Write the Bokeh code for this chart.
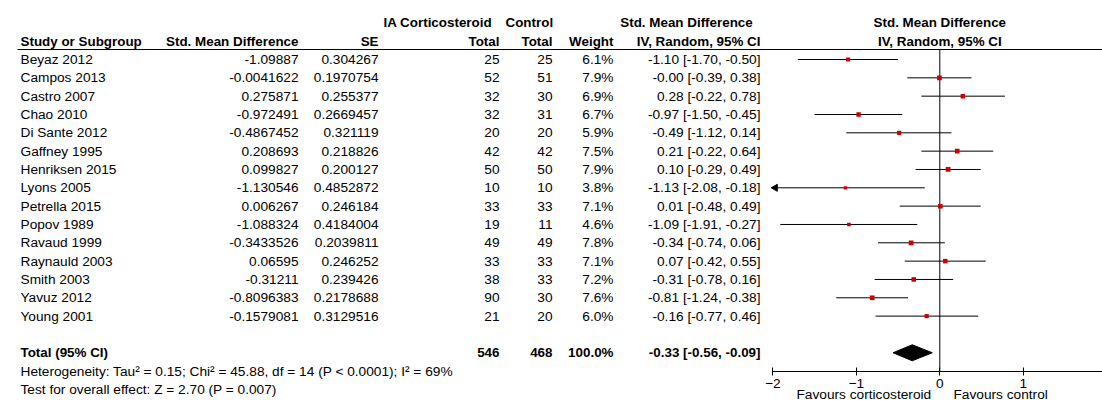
import numpy as np
from bokeh.plotting import figure
from bokeh.models import Range1d, LinearAxis, FixedTicker, ColumnDataSource
from bokeh.embed import file_html
from bokeh.resources import INLINE
from bokeh.core.properties import value

# ---------------- data ----------------
studies = ["Beyaz 2012", "Campos 2013", "Castro 2007", "Chao 2010", "Di Sante 2012",
           "Gaffney 1995", "Henriksen 2015", "Lyons 2005", "Petrella 2015", "Popov 1989",
           "Ravaud 1999", "Raynauld 2003", "Smith 2003", "Yavuz 2012", "Young 2001"]
smd = [-1.09887, -0.0041622, 0.275871, -0.972491, -0.4867452,
       0.208693, 0.099827, -1.130546, 0.006267, -1.088324,
       -0.3433526, 0.06595, -0.31211, -0.8096383, -0.1579081]
se = [0.304267, 0.1970754, 0.255377, 0.2669457, 0.321119,
      0.218826, 0.200127, 0.4852872, 0.246184, 0.4184004,
      0.2039811, 0.246252, 0.239426, 0.2178688, 0.3129516]
n_ia = [25, 52, 32, 32, 20, 42, 50, 10, 33, 19, 49, 33, 38, 90, 21]
n_ctrl = [25, 51, 30, 31, 20, 42, 50, 10, 33, 11, 49, 33, 33, 30, 20]
weight = [6.1, 7.9, 6.9, 6.7, 5.9, 7.5, 7.9, 3.8, 7.1, 4.6, 7.8, 7.1, 7.2, 7.6, 6.0]
ci_lo = [-1.70, -0.39, -0.22, -1.50, -1.12, -0.22, -0.29, -2.08, -0.48, -1.91,
         -0.74, -0.42, -0.78, -1.24, -0.77]
ci_hi = [-0.50, 0.38, 0.78, -0.45, 0.14, 0.64, 0.49, -0.18, 0.49, -0.27,
         0.06, 0.55, 0.16, -0.38, 0.46]
pooled_est, pooled_lo, pooled_hi = -0.33, -0.56, -0.09
pooled_weight = "100.0%"
heterogeneity = "Heterogeneity: Tau\u00b2 = 0.15; Chi\u00b2 = 45.88, df = 14 (P < 0.0001); I\u00b2 = 69%"
overall_effect = "Test for overall effect: Z = 2.70 (P = 0.007)"
axis_ticks = [-2, -1, 0, 1, 2]
favours_left = "Favours corticosteroid"
favours_right = "Favours control"

# ---------------- layout ----------------
FONT = "Liberation Sans"
FS = "13.7px"
FSB = "13.4px"
W, H = 1102, 402
ROW0, ROWH = 59.0, 18.33           # px of first row and row pitch
X0, PXU = 939.3, 83.5              # px of SMD 0, px per unit
AX_LO, AX_HI = -2, 2


def prow(px):
    """pixel from top -> row coordinate"""
    return (px - ROW0) / ROWH


n = len(studies)
rows = list(range(n))
total_row = n + 1
het_row = n + 2
test_row = n + 3
hdr1, hdr2 = -2, -1
rule_row = prow(49)
axis_row = prow(370.5)
fav_row = prow(393.5)

p = figure(width=W, height=H, output_backend="svg", toolbar_location=None,
           x_range=Range1d(0, W), y_range=Range1d(prow(H), prow(0)),
           x_axis_type=None, y_axis_type=None, min_border=0,
           outline_line_color=None, background_fill_color="white", border_fill_color="white")
p.grid.visible = False
p.extra_x_ranges = {"smd": Range1d((0 - X0) / PXU, (W - X0) / PXU)}

fmt2 = lambda v: f"{v:.2f}"
src = ColumnDataSource(dict(
    y=rows,
    study=studies,
    smd_t=[str(v) for v in smd],
    se_t=[str(v) for v in se],
    nia=[str(v) for v in n_ia],
    nct=[str(v) for v in n_ctrl],
    wt=[f"{v:.1f}%" for v in weight],
    ci=[f"{fmt2(e)} [{fmt2(l)}, {fmt2(h)}]" for e, l, h in zip(smd, ci_lo, ci_hi)],
    est=smd,
    lo=[float(v) for v in np.maximum(ci_lo, AX_LO)],
    hi=ci_hi,
    sz=[float(1.7 * np.sqrt(w)) for w in weight],
))

common = dict(text_font=value(FONT), text_font_size=value(FS), text_color="#000000",
              text_baseline="middle")
bold = dict(common, text_font_style="bold", text_font_size=value(FSB))

# table columns
p.text(x=20, y="y", text="study", source=src, text_align="left", **common)
p.text(x=298, y="y", text="smd_t", source=src, text_align="right", **common)
p.text(x=378, y="y", text="se_t", source=src, text_align="right", **common)
p.text(x=499, y="y", text="nia", source=src, text_align="right", **common)
p.text(x=552, y="y", text="nct", source=src, text_align="right", **common)
p.text(x=613, y="y", text="wt", source=src, text_align="right", **common)
p.text(x=760, y="y", text="ci", source=src, text_align="right", **common)

# headers
p.text(x=[383, 505], y=[hdr1, hdr1], text=["IA Corticosteroid", "Control"], text_align="left", **bold)
p.text(x=[686], y=[hdr1], text=["Std. Mean Difference"], text_align="center", **bold)
p.text(x=[20], y=[hdr2], text=["Study or Subgroup"], text_align="left", **bold)
p.text(x=[298, 378, 499, 552, 613, 760], y=[hdr2] * 6,
       text=["Std. Mean Difference", "SE", "Total", "Total", "Weight", "IV, Random, 95% CI"],
       text_align="right", **bold)
p.text(x=[0, 0], y=[hdr1, hdr2], text=["Std. Mean Difference", "IV, Random, 95% CI"],
       text_align="center", x_range_name="smd", **bold)

# total row
p.text(x=[20], y=[total_row], text=["Total (95% CI)"], text_align="left", **bold)
p.text(x=[499, 552, 613, 760], y=[total_row] * 4,
       text=[str(sum(n_ia)), str(sum(n_ctrl)), pooled_weight,
             f"{fmt2(pooled_est)} [{fmt2(pooled_lo)}, {fmt2(pooled_hi)}]"],
       text_align="right", **bold)

# footnotes
p.text(x=[20, 20], y=[het_row, test_row], text=[heterogeneity, overall_effect],
       text_align="left", **common)

# header rule
p.segment(x0=[17], x1=[W], y0=[rule_row], y1=[rule_row], line_color="#000000", line_width=1)

# zero line
p.segment(x0=[0], x1=[0], y0=[rule_row], y1=[axis_row], x_range_name="smd",
          line_color="#000000", line_width=1)

# CIs
p.segment(x0="lo", x1="hi", y0="y", y1="y", source=src, x_range_name="smd",
          line_color="#000000", line_width=1)
p.scatter(x="est", y="y", size="sz", marker="square", source=src, x_range_name="smd",
          fill_color="#cc0000", line_color=None)
# arrow head for CI running past the axis
clipped = [i for i, l in enumerate(ci_lo) if l < AX_LO]
p.scatter(x=[AX_LO + 2.5 / PXU] * len(clipped), y=clipped, marker="triangle", angle=np.pi / 2,
          size=7, x_range_name="smd", fill_color="#000000", line_color="#000000")

# diamond
dh = 8.0 / ROWH
p.patch(x=[pooled_lo, pooled_est, pooled_hi, pooled_est],
        y=[total_row, total_row - dh, total_row, total_row + dh],
        x_range_name="smd", fill_color="#000000", line_color="#000000")

# axis (drawn at a fixed row inside the frame)
ax = LinearAxis(x_range_name="smd", ticker=FixedTicker(ticks=axis_ticks), bounds=(AX_LO, AX_HI),
                fixed_location=axis_row,
                axis_line_color="#000000", major_tick_line_color="#000000",
                major_tick_in=4, major_tick_out=4, minor_tick_line_color=None,
                major_label_standoff=4, major_label_text_font=FONT,
                major_label_text_font_size=FS, major_label_text_color="#000000")
p.add_layout(ax, "below")

# favours labels
p.text(x=[(796 - X0) / PXU, (953 - X0) / PXU], y=[fav_row, fav_row],
       text=[favours_left, favours_right], x_range_name="smd",
       text_align="left", **common)

open("out.html", "w").write(file_html(p, INLINE))
